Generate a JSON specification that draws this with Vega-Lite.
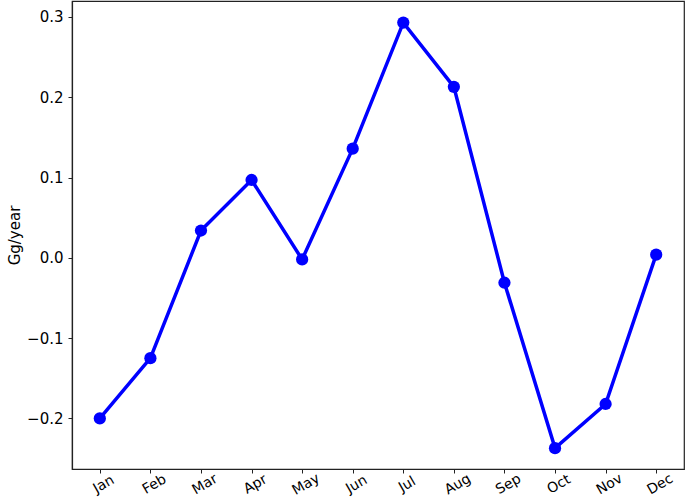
{
  "$schema": "https://vega.github.io/schema/vega-lite/v6.json",
  "width": 612,
  "height": 468,
  "autosize": {"type": "none"},
  "padding": {"left": 72, "top": 1, "right": 1, "bottom": 33},
  "background": "white",
  "config": {
    "view": {"stroke": "#222222", "strokeWidth": 1.2},
    "axis": {
      "domainColor": "#222222",
      "domainWidth": 1.2,
      "tickColor": "#222222",
      "labelColor": "black",
      "titleColor": "black",
      "labelFont": "DejaVu Sans",
      "titleFont": "DejaVu Sans",
      "grid": false
    }
  },
  "data": {
    "values": [
      {"month": "Jan", "value": -0.200},
      {"month": "Feb", "value": -0.125},
      {"month": "Mar", "value": 0.034},
      {"month": "Apr", "value": 0.097},
      {"month": "May", "value": -0.002},
      {"month": "Jun", "value": 0.136},
      {"month": "Jul", "value": 0.293},
      {"month": "Aug", "value": 0.213},
      {"month": "Sep", "value": -0.031},
      {"month": "Oct", "value": -0.237},
      {"month": "Nov", "value": -0.182},
      {"month": "Dec", "value": 0.004}
    ]
  },
  "encoding": {
    "x": {
      "field": "month",
      "type": "ordinal",
      "sort": null,
      "scale": {"type": "point", "padding": 0.55},
      "axis": {
        "title": null,
        "labelAngle": -30,
        "labelAlign": "center",
        "labelBaseline": "top",
        "labelFontSize": 14,
        "tickSize": 4,
        "labelPadding": 5
      }
    },
    "y": {
      "field": "value",
      "type": "quantitative",
      "scale": {"domain": [-0.263, 0.3199], "nice": false, "zero": false},
      "axis": {
        "title": "Gg/year",
        "titleFontSize": 15,
        "titleFontWeight": "normal",
        "labelFontSize": 15,
        "values": [-0.2, -0.1, 0, 0.1, 0.2, 0.3],
        "labelExpr": "replace(format(datum.value, '.1f'), '-', '\u2212')",
        "tickSize": 4,
        "labelPadding": 5,
        "titlePadding": 4
      }
    }
  },
  "layer": [
    {"mark": {"type": "line", "color": "#0000ff", "strokeWidth": 3.5}},
    {"mark": {"type": "point", "filled": true, "color": "#0000ff", "size": 150, "opacity": 1}}
  ]
}
